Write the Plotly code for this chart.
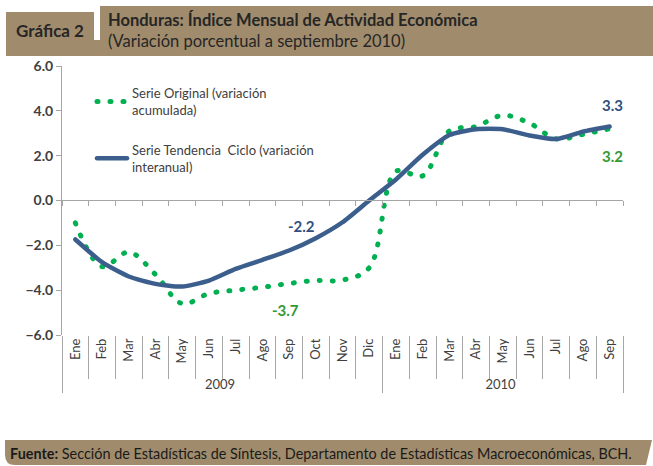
import plotly.graph_objects as go

# data
years = ["2009"] * 12 + ["2010"] * 9
months = ["Ene", "Feb", "Mar", "Abr", "May", "Jun", "Jul", "Ago", "Sep", "Oct", "Nov", "Dic",
          "Ene", "Feb", "Mar", "Abr", "May", "Jun", "Jul", "Ago", "Sep"]
serie_original = [-1.0, -2.95, -2.3, -3.3, -4.6, -4.15, -4.0, -3.87, -3.7, -3.57, -3.55, -3.0,
                  1.3, 1.1, 3.1, 3.3, 3.8, 3.45, 2.75, 2.95, 3.2]
serie_tendencia = [-1.74, -2.75, -3.39, -3.72, -3.84, -3.57, -3.05, -2.65, -2.23, -1.68, -0.97, 0.0,
                   0.94, 2.04, 2.92, 3.18, 3.18, 2.9, 2.74, 3.07, 3.3]

W, H = 653, 466
L, R, T, B = 62, 623, 66, 335
FONT = "Lato"
TAN = "#A08C6C"
GREEN = "#00B050"
BLUE = "#3B5E8C"


def px(x):
    return (x - L) / (R - L)


def py(y):
    return (B - y) / (B - T)


fig = go.Figure()

fig.add_trace(go.Scatter(
    x=[years, months], y=serie_original,
    name="Serie Original (variación<br>acumulada)",
    mode="lines", line=dict(color=GREEN, width=5, dash="1px,12px", shape="spline", smoothing=1.0),
    legendgroup="a",
))
fig.add_trace(go.Scatter(
    x=[years, months], y=serie_tendencia,
    name="Serie Tendencia  Ciclo (variación<br>interanual)",
    mode="lines", line=dict(color=BLUE, width=4.5, shape="spline", smoothing=0.6),
    legendgroup="b",
))
# invisible trace to carry the zero-line tick axis
fig.add_trace(go.Scatter(
    x=list(range(len(months))), y=[None] * len(months), xaxis="x2",
    showlegend=False, hoverinfo="skip", mode="lines",
))

fig.update_layout(
    width=W, height=H,
    margin=dict(l=L, r=W - R, t=T, b=H - B),
    paper_bgcolor="white", plot_bgcolor="white",
    font=dict(family=FONT, size=12, color="#404040"),
    showlegend=True,
    legend=dict(
        x=px(92), y=py(78), xanchor="left", yanchor="top",
        bgcolor="rgba(0,0,0,0)", font=dict(size=13, color="#404040"),
        traceorder="grouped", tracegroupgap=20,
    ),
    xaxis=dict(
        type="multicategory", showline=False, showgrid=False, automargin=False,
        ticks="outside", ticklen=43, tickcolor="#A6A6A6", tickson="boundaries",
        tickangle=-90, tickfont=dict(size=13, color="#404040"),
        showdividers=True, dividercolor="#A6A6A6", dividerwidth=1,
        range=[-0.5, 20.5],
    ),
    xaxis2=dict(
        overlaying="x", anchor="free", position=py(200), side="bottom",
        range=[-0.5, 20.5], showline=True, linecolor="#A6A6A6", showgrid=False,
        ticks="outside", ticklen=5, tickcolor="#A6A6A6", tickmode="linear",
        tick0=-0.5, dtick=1, showticklabels=False, zeroline=False,
    ),
    yaxis=dict(
        range=[-6, 6], dtick=2, tickformat=".1f", showgrid=False, zeroline=False, automargin=False,
        showline=True, linecolor="#A6A6A6", ticks="outside", ticklen=5, tickcolor="#A6A6A6",
        tickfont=dict(size=14, color="#404040", weight="bold"),
    ),
)

# data labels
fig.add_annotation(x=("2009", "Sep"), y=serie_tendencia[8], text="<b>-2.2</b>", showarrow=False,
                   xshift=12, yshift=24, font=dict(size=15, color="#2F4F7F"))
fig.add_annotation(x=("2009", "Sep"), y=serie_original[8], text="<b>-3.7</b>", showarrow=False,
                   xshift=-4, yshift=-27, font=dict(size=15, color="#339933"))
fig.add_annotation(x=("2010", "Sep"), y=serie_tendencia[20], text="<b>3.3</b>", showarrow=False,
                   xshift=3, yshift=22, font=dict(size=15, color="#2F4F7F"))
fig.add_annotation(x=("2010", "Sep"), y=serie_original[20], text="<b>3.2</b>", showarrow=False,
                   xshift=3, yshift=-27, font=dict(size=15, color="#339933"))

# header band
fig.add_shape(type="rect", xref="paper", yref="paper", x0=px(6), x1=px(653), y0=py(6), y1=py(56),
              fillcolor=TAN, line_width=0, layer="below")
fig.add_shape(type="rect", xref="paper", yref="paper", x0=px(94), x1=px(100), y0=py(5), y1=py(40),
              fillcolor="white", line_width=0, layer="below")
fig.add_shape(type="rect", xref="paper", yref="paper", x0=px(6), x1=px(94), y0=py(5), y1=py(12),
              fillcolor="white", line_width=0, layer="below")
fig.add_annotation(xref="paper", yref="paper", x=px(14), y=py(31), xanchor="left", yanchor="middle",
                   text="<b>Gráfica 2</b>", showarrow=False, font=dict(size=17, color="#262626"))
fig.add_annotation(xref="paper", yref="paper", x=px(106), y=py(20), xanchor="left", yanchor="middle",
                   text="<b>Honduras: Índice Mensual de Actividad Económica</b>", showarrow=False,
                   font=dict(size=16.5, color="#262626"))
fig.add_annotation(xref="paper", yref="paper", x=px(106), y=py(41), xanchor="left", yanchor="middle",
                   text="(Variación porcentual a septiembre 2010)", showarrow=False,
                   font=dict(size=16.5, color="#262626"))

# footer band
fig.add_shape(type="path", xref="paper", yref="paper",
              path=(f"M {px(5)},{py(440)} L {px(652)},{py(440)} L {px(646)},{py(465)} "
                    f"L {px(15)},{py(465)} Q {px(5)},{py(465)} {px(5)},{py(455)} Z"),
              fillcolor=TAN, line_width=0, layer="below")
fig.add_annotation(xref="paper", yref="paper", x=px(8), y=py(453), xanchor="left", yanchor="middle",
                   text="<b>Fuente:</b> Sección de Estadísticas de Síntesis, Departamento de Estadísticas Macroeconómicas, BCH.",
                   showarrow=False, font=dict(size=14.4, color="#1a1a1a"))

# page body has a default margin; drop it and round the dots of the dotted line
post = """
document.body.style.margin = '0';
document.querySelectorAll('.js-line').forEach(function (p) {
    p.style.strokeLinecap = 'round';
});
"""
fig.write_html("out.html", post_script=post, config={"displayModeBar": False})
